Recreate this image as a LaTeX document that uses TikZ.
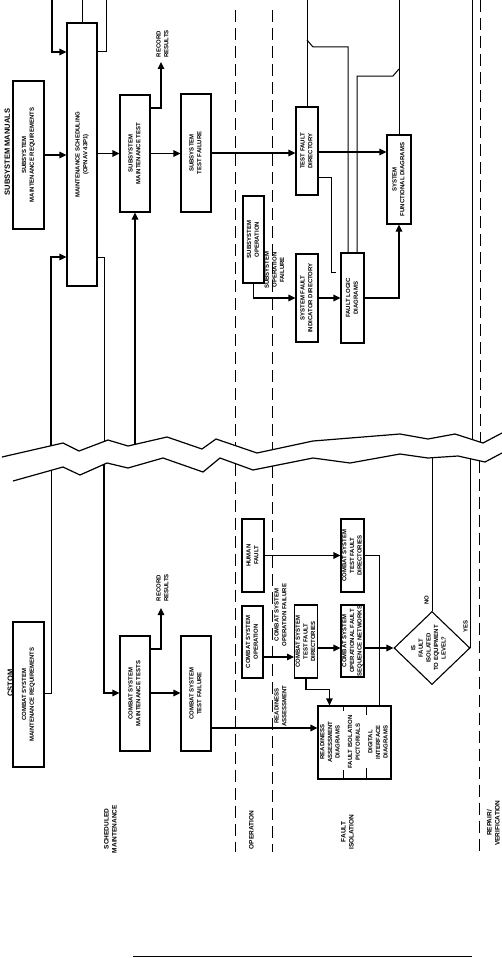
\documentclass[tikz,border=0pt]{standalone}
\usepackage{fontspec}
\setmainfont{Liberation Sans}
\usetikzlibrary{shapes.geometric,arrows.meta,calc}
\newcommand{\rtxt}[1]{\rotatebox{90}{\begin{tabular}{@{}c@{}}#1\end{tabular}}}
\begin{document}
\begin{tikzpicture}[x=1pt,y=-1pt,
 box/.style={draw,line width=1.1pt,inner sep=0pt,font=\bfseries\fontsize{6}{7.6}\selectfont},
 lbl/.style={inner sep=0pt,font=\bfseries\fontsize{6}{7.6}\selectfont},
 hdr/.style={inner sep=0pt,font=\bfseries\fontsize{7.5}{9}\selectfont},
 grp/.style={inner sep=0pt,font=\bfseries\fontsize{6.5}{8}\selectfont},
 ln/.style={line width=1pt},
 arr/.style={line width=1.1pt,-{Triangle[length=7pt,width=6.5pt]}},
 dsh/.style={line width=1pt,dash pattern=on 12pt off 6pt},
 brk/.style={line width=1.2pt,line join=miter}]
\useasboundingbox (0,0) rectangle (502,958);
\fill[white] (0,0) rectangle (502,958);

% ---------- upper half boxes ----------
\node[hdr] (hsub) at (8,152) {\rtxt{SUBSYSTEM MANUALS}};
\node[box,minimum width=31pt,minimum height=148pt] (smr) at (28.5,155) {\rtxt{SUBSYSTEM\\MAINTENANCE REQUIREMENTS}};
\node[box,minimum width=30pt,minimum height=263pt] (ms) at (82,154.5) {\rtxt{MAINTENANCE SCHEDULING\\(OPNAV 43P1)}};
\node[box,minimum width=30pt,minimum height=117pt] (smt) at (135,153.5) {\rtxt{SUBSYSTEM\\MAINTENANCE TEST}};
\node[box,minimum width=30pt,minimum height=118pt] (stf) at (196,153) {\rtxt{SUBSYSTEM\\TEST FAILURE}};
\node[box,minimum width=22pt,minimum height=88pt] (tfd) at (307,151) {\rtxt{TEST FAULT\\DIRECTORY}};
\node[box,minimum width=24pt,minimum height=89pt] (sfd) at (399,179.5) {\rtxt{SYSTEM\\FUNCTIONAL DIAGRAMS}};
\node[box,minimum width=21pt,minimum height=87pt] (so) at (253.5,239.5) {\rtxt{SUBSYSTEM\\OPERATION}};
\node[box,minimum width=22pt,minimum height=88pt] (sfid) at (307,298) {\rtxt{SYSTEM FAULT\\INDICATOR DIRECTORY}};
\node[box,minimum width=23pt,minimum height=90pt] (fld) at (352.5,298) {\rtxt{FAULT LOGIC\\DIAGRAMS}};
\node[lbl] (rrt1) at (163,44) {\rtxt{RECORD\\RESULTS}};
\coordinate (rr1) at (161,62);
\node[lbl] (sofl) at (275,270) {\rtxt{SUBSYSTEM\\OPERATION\\FAILURE}};

% ---------- lower half boxes ----------
\node[hdr] (hcs) at (11,683) {\rtxt{CSTOM}};
\node[box,minimum width=31pt,minimum height=145pt] (csmr) at (28.5,694.5) {\rtxt{COMBAT SYSTEM\\MAINTENANCE REQUIREMENTS}};
\node[box,minimum width=30pt,minimum height=115pt] (csmt) at (135,693.5) {\rtxt{COMBAT SYSTEM\\MAINTENANCE TESTS}};
\node[box,minimum width=30pt,minimum height=115pt] (cstf) at (196,693.5) {\rtxt{COMBAT SYSTEM\\TEST FAILURE}};
\node[box,minimum width=22pt,minimum height=73pt] (hf) at (253,555.5) {\rtxt{HUMAN\\FAULT}};
\node[box,minimum width=21pt,minimum height=72pt] (cso) at (252.5,642) {\rtxt{COMBAT SYSTEM\\OPERATION}};
\node[box,minimum width=22pt,minimum height=73pt] (cstfd2) at (306,641.5) {\rtxt{COMBAT SYSTEM\\TEST FAULT\\DIRECTORIES}};
\node[box,minimum width=23pt,minimum height=73pt] (cstfd1) at (352.5,555.5) {\rtxt{COMBAT SYSTEM\\TEST FAULT\\DIRECTORIES}};
\node[box,minimum width=23pt,minimum height=72pt] (csofsn) at (352.5,641) {\rtxt{COMBAT SYSTEM\\OPERATIONAL FAULT\\SEQUENCE NETWORKS}};
\node[box,minimum width=73pt,minimum height=73pt] (big) at (354.5,742.5) {};
\node[lbl] (bigA) at (330.5,742) {\rtxt{READINESS\\ASSESSMENT\\DIAGRAMS}};
\node[lbl] (bigB) at (354.5,742) {\rtxt{FAULT ISOLATION\\PICTORIALS}};
\node[lbl] (bigC) at (378.5,742) {\rtxt{DIGITAL\\INTERFACE\\DIAGRAMS}};
\draw[ln] (343,706) -- (343,711) (343,770) -- (343,779);
\draw[ln] (366,706) -- (366,715) (366,768) -- (366,779);
\node[draw,line width=1.1pt,diamond,minimum width=76pt,minimum height=73pt,inner sep=0pt] (dia) at (432,648) {};
\node[lbl] (diat) at (429,648) {\rtxt{IS\\FAULT\\ISOLATED\\TO EQUIPMENT\\LEVEL?}};
\node[lbl] (rrt2) at (163,588) {\rtxt{RECORD\\RESULTS}};
\coordinate (rr2) at (161,608);
\node[lbl] (csof) at (281,615) {\rtxt{COMBAT SYSTEM\\OPERATION FAILURE}};
\node[lbl] (rass) at (281,706) {\rtxt{READINESS\\ASSESSMENT}};
\node[lbl] (no) at (427,600) {\rtxt{NO}};
\node[lbl] (yes) at (466,626) {\rtxt{YES}};

% group labels
\node[grp] (g1) at (111,829) {\rtxt{SCHEDULED\\MAINTENANCE}};
\node[grp] (g2) at (252,830) {\rtxt{OPERATION}};
\node[grp] (g3) at (348,832) {\rtxt{FAULT\\ISOLATION}};
\node[grp] (g4) at (494,823) {\rtxt{REPAIR/\\VERIFICATION}};

% ---------- dashed lane lines ----------
\draw[dsh] (235,10) -- (235,445.5);
\draw[dsh] (235,463.5) -- (235,852);
\draw[dsh] (272.5,10) -- (272.5,449.8);
\draw[dsh] (272.5,466.2) -- (272.5,852);
\draw[dsh] (480,0) -- (480,442);
\draw[dsh] (479,460.7) -- (479,852);

% ---------- upper connectors ----------
\draw[arr] (52,0) |- (ms.west |- 0,52);
\draw[ln] (82,0) -- (ms.north);
\draw[ln] (106,0) |- (ms.east |- 0,52);
\draw[ln] (307,0) -- (tfd.north);
\draw[ln] (399,0) -- (sfd.north);
\draw[ln] (472,0) -- (472,439.5);
\draw[ln] ($(fld.north)+(-4.5,0)$) -- (348,47) -- (313,47) -- (307,40);
\draw[ln] ($(fld.north)+(4.5,0)$) -- (357,76) -- (393,76) -- (399,69);
\draw[arr] (smr.east) -- (ms.west |- smr.east);
\draw[arr] (ms.east |- smt.west) -- (smt.west);
\draw[arr] (smt.east) -- (stf.west |- smt.east);
\draw[arr] (stf.east) -- (tfd.west |- stf.east);
\draw[arr] (tfd.east |- 0,152) -- (sfd.west |- 0,152);
\draw[arr] (smt.east |- 0,108) -| (rr1);
\draw[arr] (so.south) |- (sfid.west);
\draw[arr] (sfid.east) -- (fld.west |- sfid.east);
\draw[arr] (fld.east) -| (sfd.south);
\draw[ln] (tfd.east |- 0,177) -| (331,272) -- (336,272);
\draw[arr] (51,445.8) |- (ms.west |- 0,257);
\draw[ln] (ms.east |- 0,257) -| (104,441.5);
\draw[arr] (135,444.4) -- (smt.south);

% ---------- lower connectors ----------
\draw[ln] (csmr.east |- 0,693) -| (51,470.4);
\draw[arr] (104,464.3) |- (csmt.west |- 0,693);
\draw[arr] (csmt.east |- 0,693) -- (cstf.west |- 0,693);
\draw[arr] (csmt.east |- 0,649) -| (rr2);
\draw[arr] (cstf.east |- 0,728) -- (big.west |- 0,728);
\draw[arr] (hf.east) -- (cstfd1.west);
\draw[arr] (cso.east |- 0,657) -- (cstfd2.west |- 0,657);
\draw[arr] (cstfd2.east |- 0,648) -- (csofsn.west |- 0,648);
\draw[arr] (cstfd2.south) |- ($(big.north west)+(12,-16)$) -- ($(big.north west)+(12,0)$);
\draw[ln] (cstfd1.east) -| ($(big.north east)+(-12,0)$);
\draw[arr] (csofsn.east |- 0,648) -- (dia.west);
\draw[ln] (dia.north) -- (dia.north |- 0,457.7);
\draw[ln] (dia.east) -- (dia.east |- 0,458.9);

% ---------- break lines ----------
\draw[brk] (2,457) -- (63,443) -- (79,451) -- (108,440) -- (128,446) -- (167,437) -- (202,449) -- (216,439) -- (257,453) -- (313,441) -- (400,434) -- (428,439) -- (455,434) -- (483,443) -- (502,433);
\draw[brk] (13,481) -- (63,467) -- (80,475) -- (107,463) -- (128,468) -- (163,458) -- (203,472) -- (220,458) -- (253,470) -- (313,458) -- (350,463) -- (400,454) -- (428,458) -- (458,456) -- (485,462) -- (502,453);

% bottom rule
\draw[ln] (133,956) -- (472,956);
\end{tikzpicture}
\end{document}
